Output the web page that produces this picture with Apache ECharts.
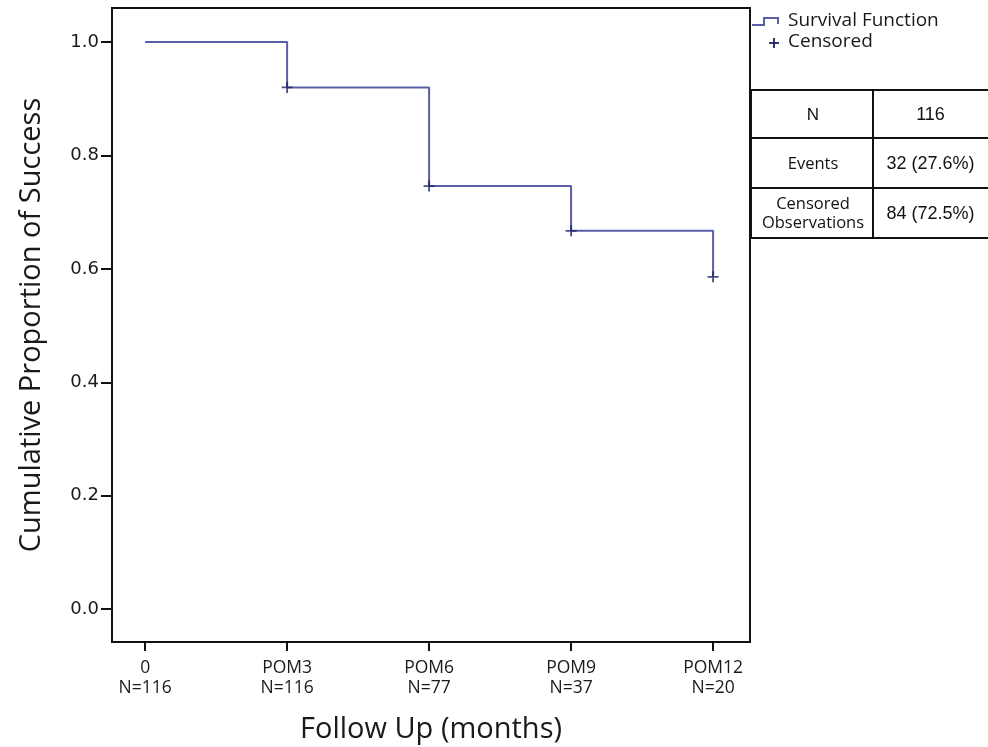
<!DOCTYPE html>
<html><head><meta charset="utf-8">
<script src="https://cdn.jsdelivr.net/npm/echarts@6/dist/echarts.min.js"></script>
<style>html,body{margin:0;padding:0;background:#fff}#c{width:988px;height:747px}</style>
</head><body><div id="c"></div>
<script>
var timePoints = [0, 3, 6, 9, 12];
var survival = [1.0, 0.92, 0.746, 0.667, 0.586];
var censoredTimes = [3, 6, 9, 12];
var censoredValues = [0.92, 0.746, 0.667, 0.586];
var xTickLabels = ['0', 'POM3', 'POM6', 'POM9', 'POM12'];
var atRisk = ['N=116', 'N=116', 'N=77', 'N=37', 'N=20'];
var yTicks = [0, 0.2, 0.4, 0.6, 0.8, 1.0];
var tableLabels = ['N', 'Events', 'Censored\nObservations'];
var tableValues = ['116', '32 (27.6%)', '84 (72.5%)'];
var legendNames = ['Survival Function', 'Censored'];

var chart = echarts.init(document.getElementById('c'));
var lineColor = '#5a5ea8', markColor = '#1f2160';
var font = '"Open Sans", "Liberation Sans", sans-serif';
var arial = '"Liberation Sans", Arial, sans-serif';

var rowY = [90, 138, 188, 238];
var tLeft = 751, tMid = 873, tRight = 990;
var graphics = [];
// legend
graphics.push({type:'polyline', shape:{points:[[752,25],[764,25],[764,18],[778,18],[778,24]]}, style:{stroke:lineColor, lineWidth:2, fill:null}});
graphics.push({type:'text', left:788, top:11, style:{text:legendNames[0], font:'19px ' + font, fill:'#1a1a1a'}});
graphics.push({type:'text', left:788, top:32, style:{text:legendNames[1], font:'19px ' + font, fill:'#1a1a1a'}});
graphics.push({type:'polyline', shape:{points:[[769,43],[779,43]]}, style:{stroke:markColor, lineWidth:1.8}});
graphics.push({type:'polyline', shape:{points:[[774,38],[774,48]]}, style:{stroke:markColor, lineWidth:1.8}});
// table
for (var i = 0; i < tableLabels.length; i++) {
  var y0 = rowY[i], y1 = rowY[i+1];
  graphics.push({type:'rect', shape:{x:tLeft, y:y0, width:tMid - tLeft, height:y1 - y0}, style:{fill:'#fff', stroke:'#111', lineWidth:2}});
  graphics.push({type:'rect', shape:{x:tMid, y:y0, width:tRight - tMid, height:y1 - y0}, style:{fill:'#fff', stroke:'#111', lineWidth:2}});
  var isArial = tableLabels[i] === 'N';
  graphics.push({type:'text', x:(tLeft + tMid)/2 + 1, y:(y0 + y1)/2 + 1, style:{text:tableLabels[i], font: isArial ? '17px ' + arial : '16.5px ' + font, fill:'#111', align:'center', verticalAlign:'middle', lineHeight:19}});
  graphics.push({type:'text', x:(tMid + tRight)/2 - 1, y:(y0 + y1)/2 + 1, style:{text:tableValues[i], font:'18px ' + arial, fill:'#111', align:'center', verticalAlign:'middle'}});
}

var stepData = timePoints.map(function(t, i){ return [t, survival[i]]; });
var censData = censoredTimes.map(function(t, i){ return [t, censoredValues[i]]; });

chart.setOption({
  animation: false,
  backgroundColor: '#fff',
  grid: {left:112, right:238, top:8, bottom:105, outerBoundsMode:'none', containLabel:false, show:true, borderColor:'#111', borderWidth:2, backgroundColor:'transparent'},
  xAxis: {
    type:'value', min:-0.7, max:12.78,
    name:'Follow Up (months)', nameLocation:'middle', nameGap:73,
    nameTextStyle:{fontFamily:font, fontSize:29, color:'#1a1a1a'},
    axisLine:{show:true, onZero:false, lineStyle:{color:'#111', width:2}},
    axisTick:{show:true, length:9, lineStyle:{color:'#111', width:2}, customValues: timePoints},
    axisLabel:{customValues: timePoints, margin:16, fontFamily:font, fontSize:17.5, color:'#1a1a1a', lineHeight:20,
      formatter:function(v){ var i = timePoints.indexOf(v); return i < 0 ? '' : xTickLabels[i] + '\n' + atRisk[i]; }},
    splitLine:{show:false}
  },
  yAxis: {
    type:'value', min:-0.058, max:1.06,
    name:'Cumulative Proportion of Success', nameLocation:'middle', nameGap:66, nameRotate:90,
    nameTextStyle:{fontFamily:font, fontSize:29, color:'#1a1a1a'},
    axisLine:{show:true, onZero:false, lineStyle:{color:'#111', width:2}},
    axisTick:{show:true, length:11, lineStyle:{color:'#111', width:2}, customValues: yTicks},
    axisLabel:{customValues: yTicks, margin:13, fontFamily:'"DejaVu Sans", sans-serif', fontSize:18, color:'#1a1a1a',
      formatter:function(v){ return v.toFixed(1); }},
    splitLine:{show:false}
  },
  series: [
    {name:legendNames[0], type:'line', step:'end', data:stepData, symbol:'none', lineStyle:{color:lineColor, width:2}},
    {name:legendNames[1], type:'scatter', data:censData, symbol:'path://M5,0 L7,0 L7,5 L12,5 L12,7 L7,7 L7,12 L5,12 L5,7 L0,7 L0,5 L5,5 Z', symbolSize:11, itemStyle:{color:markColor}, z:5}
  ],
  graphic: graphics
});
</script>
</body></html>
